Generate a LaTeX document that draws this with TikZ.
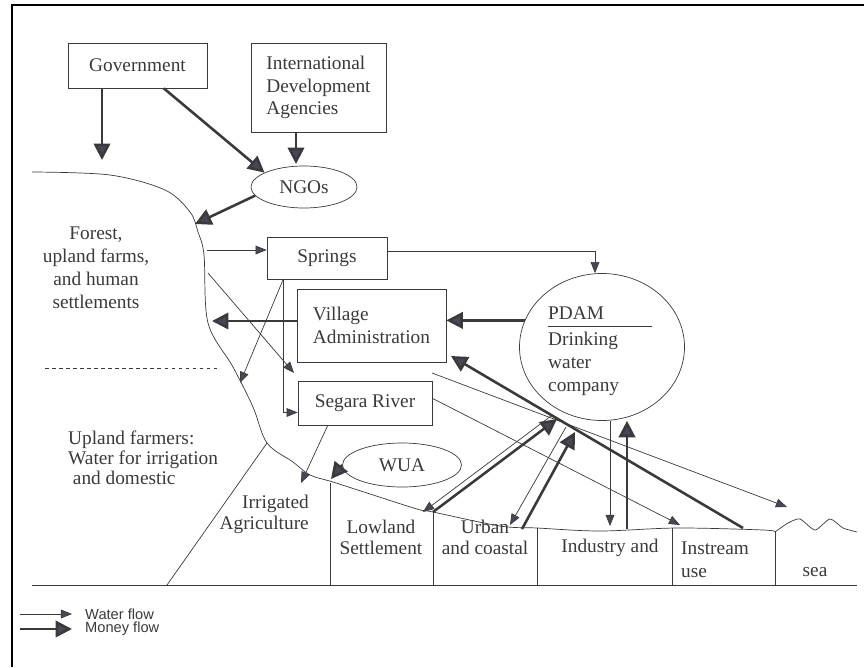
\documentclass[tikz,border=0pt]{standalone}
\usepackage{fontspec}
\setmainfont{Liberation Serif}
\newfontfamily\legendfont{Liberation Sans}
\usetikzlibrary{arrows.meta,shapes.geometric}
\definecolor{inkgray}{HTML}{3A3A3A}
\definecolor{tipgray}{HTML}{474757}
\tikzset{
  box/.style={draw=inkgray, line width=0.6pt, inner sep=0pt},
  oval/.style={draw=inkgray, line width=0.6pt, ellipse, inner sep=0pt},
  lbl/.style={text=inkgray, font=\fontsize{16.5}{19.5}\selectfont, inner sep=0pt},
  keytext/.style={text=inkgray, font=\legendfont\fontsize{12.5}{13.5}\selectfont, inner sep=0pt, anchor=west},
  water/.style={draw=inkgray, line width=0.6pt, -{Triangle[length=9.5pt,width=7.5pt,fill=tipgray]}},
  money/.style={draw=inkgray, line width=2.2pt, -{Triangle[length=14pt,width=14pt,fill=tipgray]}},
  ground/.style={draw=inkgray, line width=0.6pt}
}
\begin{document}
\begin{tikzpicture}[x=0.03cm, y=-0.03cm]
\useasboundingbox (0,0) rectangle (864,667);
\draw[line width=2.5pt] (12,667) -- (12,5) -- (864,5);

\node[box, lbl, minimum width=4.17cm, minimum height=1.35cm] (gov) at (137.5,65.5) {Government};
\node[box, lbl, minimum width=4.05cm, minimum height=2.67cm, align=left] (ida) at (318.5,87.5) {International\\Development\\Agencies};
\node[oval, lbl, minimum width=3.18cm, minimum height=1.26cm] (ngo) at (304,187) {NGOs};
\node[box, lbl, minimum width=3.6cm, minimum height=1.26cm] (springs) at (327,258) {Springs};
\node[box, lbl, minimum width=4.47cm, minimum height=2.19cm, align=left] (village) at (371.5,325.5) {Village\\Administration};
\node[box, lbl, minimum width=4.02cm, minimum height=1.32cm] (segara) at (365,403) {Segara River};
\node[oval, minimum width=4.95cm, minimum height=4.41cm] (pdam) at (602,347) {};
\node[lbl, anchor=west] (pdamname) at (548,313) {PDAM};
\draw[ground] (548,326) -- (652,326);
\node[lbl, anchor=north west, align=left] (pdamtext) at (548,332) {Drinking\\water\\company};
\node[oval, lbl, minimum width=3.57cm, minimum height=1.32cm] (wua) at (402,465) {WUA};

\node[lbl, align=center] (forest) at (96,268) {Forest,\\upland farms,\\and human\\settlements};
\node[lbl, align=left, anchor=north west, font=\fontsize{16.5}{17}\selectfont] (upland) at (68,431) {Upland farmers:\\Water for irrigation\\\hspace*{4pt}and domestic};
\node[lbl, align=right, anchor=east, font=\fontsize{16.5}{18}\selectfont] (irrig) at (309,514) {Irrigated\\Agriculture};
\node[lbl, align=center, font=\fontsize{16.5}{18}\selectfont] (lowland) at (381,537) {Lowland\\Settlement};
\node[lbl, align=center, font=\fontsize{16.5}{18}\selectfont] (urban) at (485,537) {Urban\\and coastal};
\node[lbl] (industry) at (610,548) {Industry and};
\node[lbl, align=left, anchor=west] (instream) at (681,560) {Instream\\use};
\node[lbl] (sea) at (815,572) {sea};

\draw[ground] plot[smooth, tension=0.55] coordinates {(32,172) (110,175) (165,190) (190,212) (198,232) (204,255) (208,323) (233,367) (253,407) (267,443) (293,462) (310,475) (333,482) (367,493) (417,509) (433,512) (500,526) (537,528) (600,531) (677,528) (763,530) (775,532)};
\draw[ground] plot[smooth, tension=0.4] coordinates {(775,532) (788,523) (800,519) (815,530) (830,519) (843,528) (857,532)};
\draw[ground] (32,585) -- (857,585);
\draw[ground] (267,443) -- (167,585);
\draw[ground] (330,483) -- (330,585);
\draw[ground] (433,512) -- (433,585);
\draw[ground] (537,528) -- (537,585);
\draw[ground] (672,528) -- (672,585);
\draw[ground] (775,532) -- (775,585);
\draw[ground, dashed] (45,368) -- (220,368);

\coordinate (govdrop) at (102,160);
\coordinate (idadrop) at (296,164);
\coordinate (hillngo) at (195,224);
\coordinate (hillspr) at (207,250);
\coordinate (hillseg) at (208,273);
\coordinate (hillvil) at (212,321);
\coordinate (sprcorner) at (595,251);
\coordinate (uplandin) at (240,383);
\coordinate (segin) at (294,373);
\coordinate (irrigin) at (301,483);
\coordinate (wuapt) at (331,479);
\coordinate (lowtop) at (433,512);
\coordinate (lowin) at (423,512);
\coordinate (urbtop) at (522,529);
\coordinate (urbin) at (510,525);
\coordinate (indtop) at (627,529);
\coordinate (indin) at (610,526);
\coordinate (insttop) at (743,528);
\coordinate (instin) at (680,525);
\coordinate (seaout) at (432,373);
\coordinate (seain) at (787,507);
\coordinate (pdamlow) at (557,419);
\coordinate (pdamurb) at (575,432);
\coordinate (lowpdam) at (551,416);
\coordinate (urbpdam) at (566,427);
\coordinate (vilin) at (451,356);

\draw[money] (gov.south -| govdrop) -- (govdrop);
\draw[money] (gov.-41) -- (ngo.160);
\draw[money] (ida.south -| idadrop) -- (idadrop);
\draw[money] (ngo.190) -- (hillngo);
\draw[money] (village.west |- hillvil) -- (hillvil);
\draw[money] (pdam.161) -- (village.east |- pdam.161);
\draw[money] (wua.west) -- (wuapt);
\draw[money] (lowtop) -- (pdamlow);
\draw[money] (urbtop) -- (pdamurb);
\draw[money] (indtop) -- (pdam.south -| indtop);
\draw[money] (insttop) -- (vilin);

\draw[water] (hillspr) -- (springs.west |- hillspr);
\draw[water] (springs.east |- sprcorner) -- (sprcorner) -- (pdam.north -| sprcorner);
\draw[water] (springs.206) -- (uplandin);
\draw[water] (springs.206) |- (segara.188);
\draw[water] (hillseg) -- (segin);
\draw[water] (segara.211) -- (irrigin);
\draw[water] (segara.4) -- (instin);
\draw[water] (seaout) -- (seain);
\draw[water] (lowpdam) -- (lowin);
\draw[water] (urbpdam) -- (urbin);
\draw[water] (pdam.south -| indin) -- (indin);

\coordinate (waterl) at (20,614);
\coordinate (moneyl) at (20,629);
\node[keytext] (waterkey) at (85,614) {Water flow};
\node[keytext] (moneykey) at (85,629) {Money flow};
\draw[water] (waterl) -- ([xshift=-13*0.03cm]waterkey.west);
\draw[money] (moneyl) -- ([xshift=-13*0.03cm]moneykey.west);
\end{tikzpicture}
\end{document}
